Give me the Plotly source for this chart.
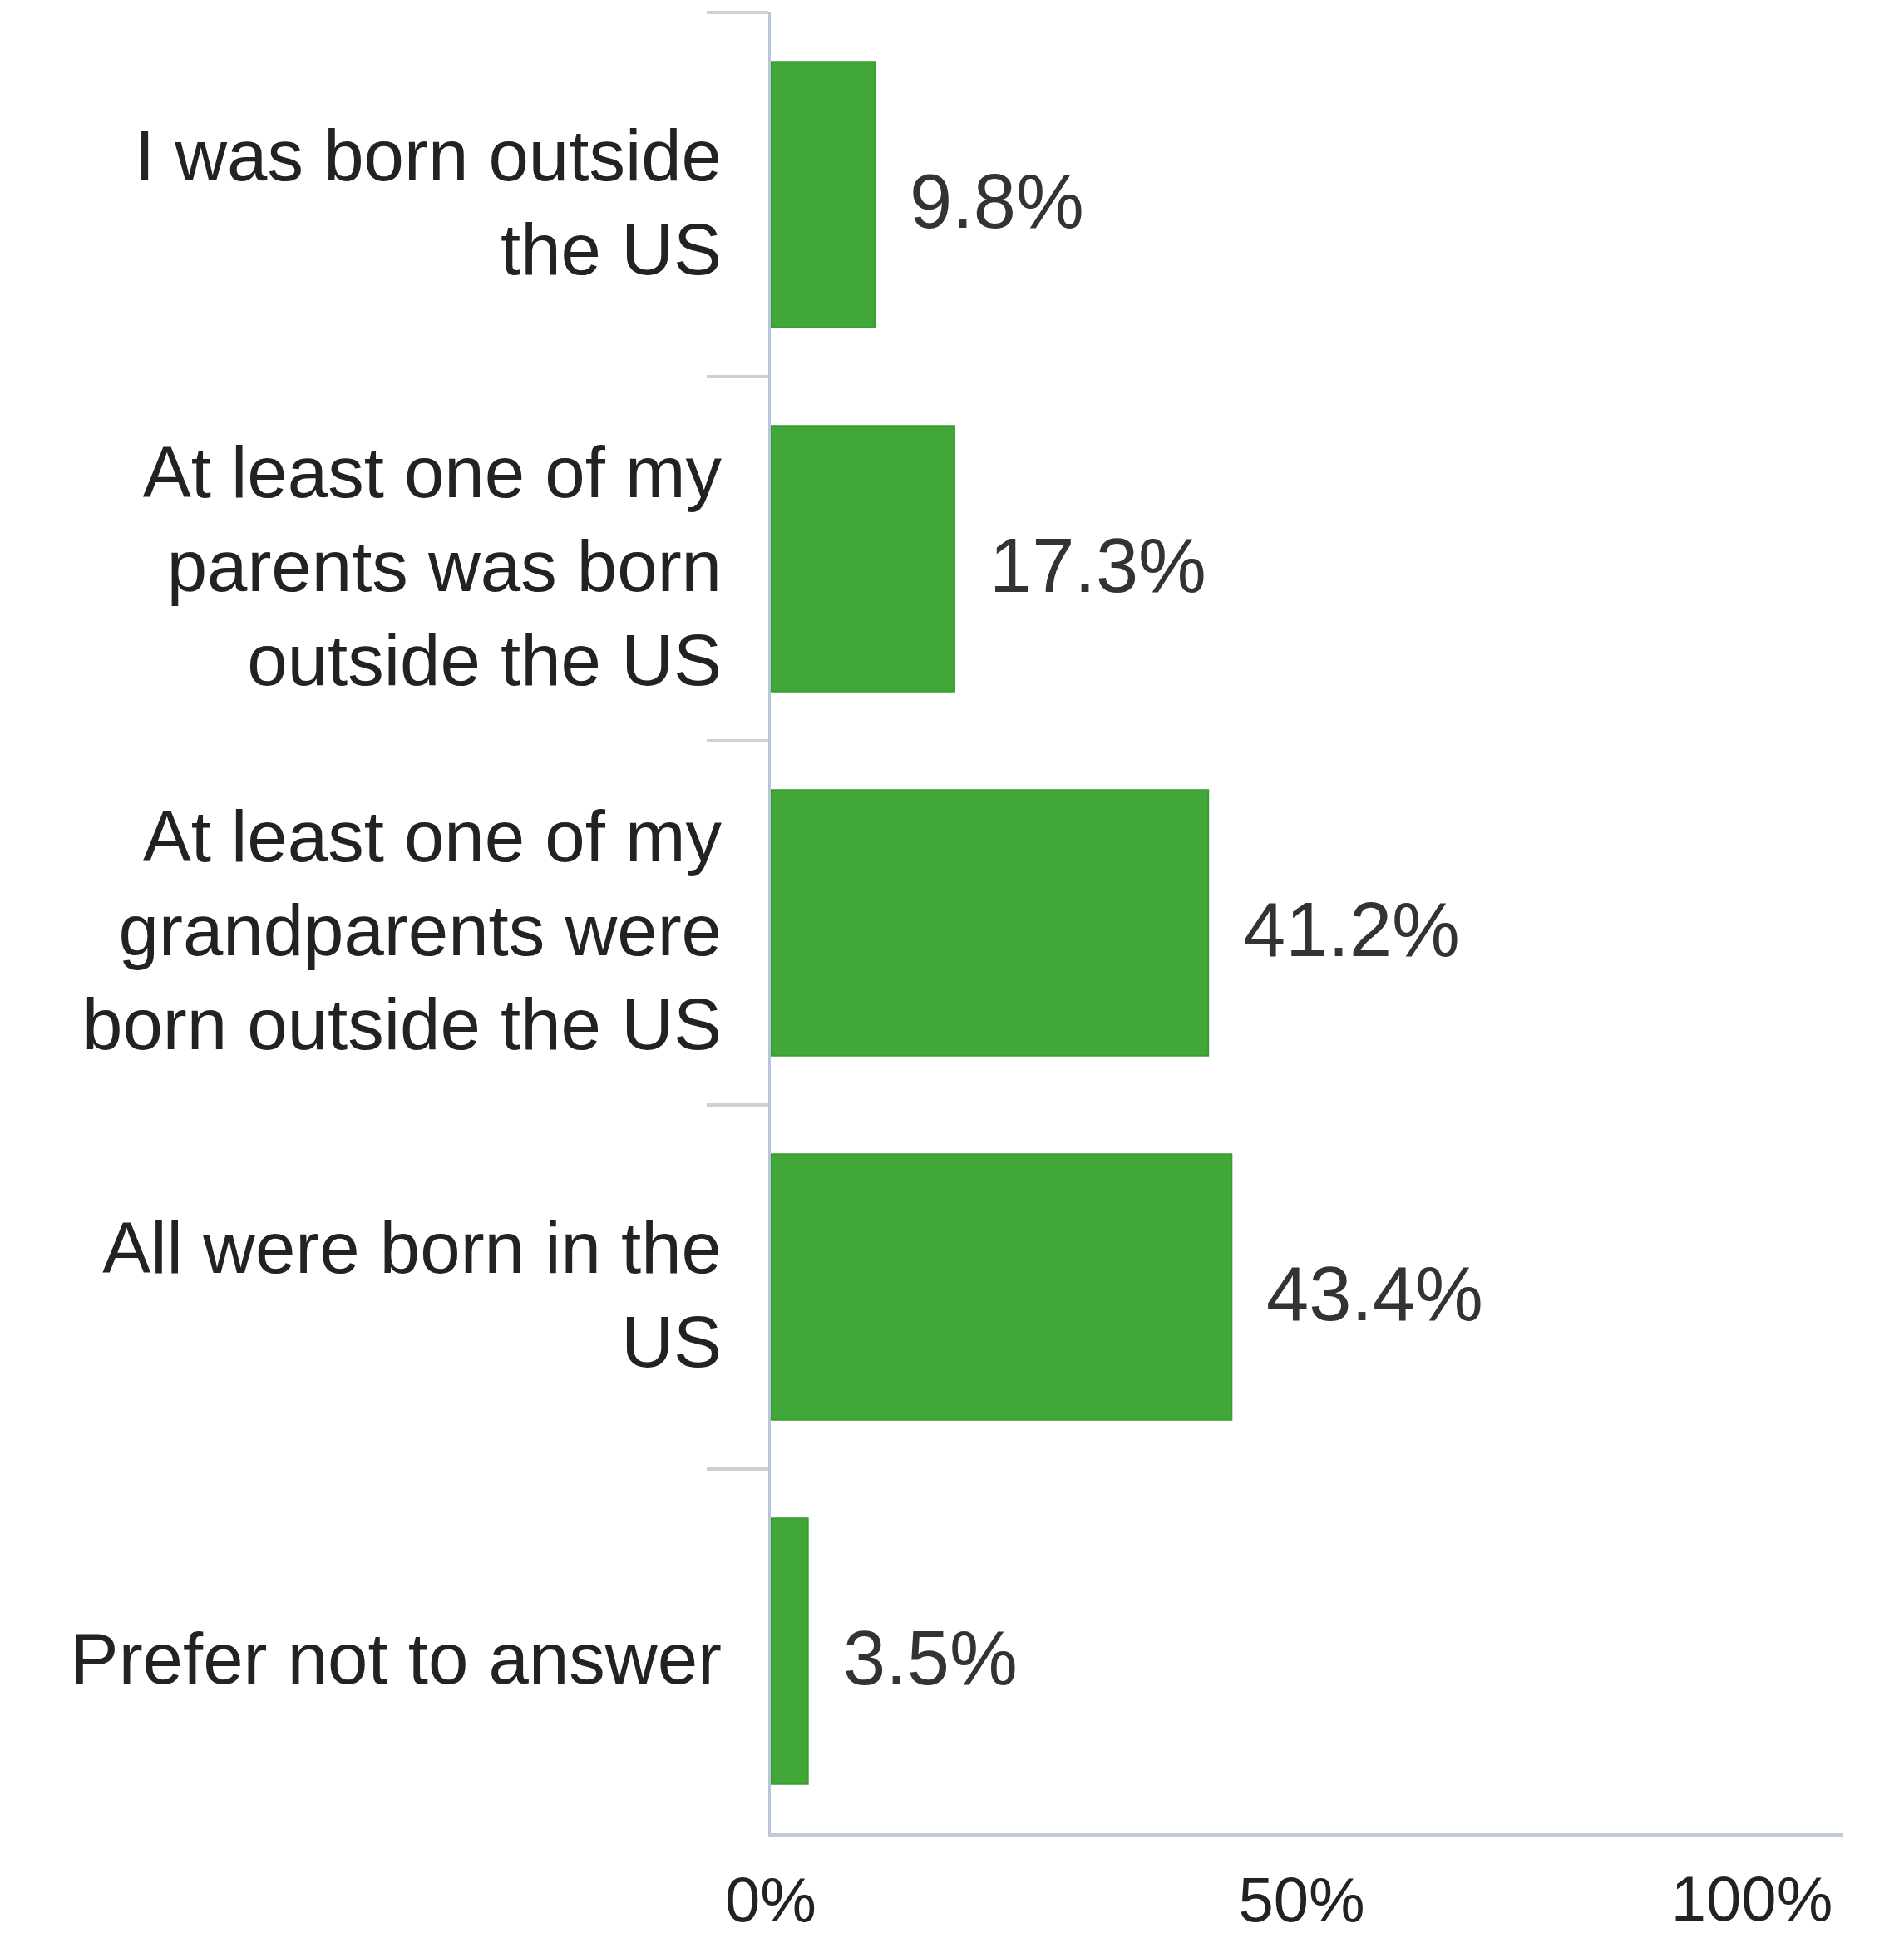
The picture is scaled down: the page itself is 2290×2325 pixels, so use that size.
import plotly.graph_objects as go

categories = [
    "I was born outside<br>the US",
    "At least one of my<br>parents was born<br>outside the US",
    "At least one of my<br>grandparents were<br>born outside the US",
    "All were born in the<br>US",
    "Prefer not to answer",
]
values = [9.8, 17.3, 41.2, 43.4, 3.5]
x_tick_vals = [0, 50]
x_tick_text = ["0%", "50%"]
x_end_tick_vals = [100]
x_end_tick_text = ["100%"]

FONT = "Liberation Sans, Arial, sans-serif"
X_RANGE = [0, 101]

fig = go.Figure()
fig.add_trace(go.Bar(
    x=values,
    y=categories,
    orientation="h",
    marker=dict(color="#41a739", line=dict(color="#3a9c33", width=2)),
    hoverinfo="skip",
))
# empty helper trace so the overlay axes (labels) are drawn
fig.add_trace(go.Scatter(x=[], y=[], xaxis="x2", yaxis="y2", hoverinfo="skip"))

for v, c in zip(values, categories):
    fig.add_annotation(
        x=v, y=c, text=f"{v}%", showarrow=False,
        xanchor="left", xshift=40, yshift=-8,
        font=dict(family=FONT, size=92, color="#333333"),
    )

n = len(categories)
fig.update_layout(
    width=2290, height=2325,
    margin=dict(l=919, r=81, t=7, b=128),
    paper_bgcolor="white", plot_bgcolor="white",
    bargap=0.27,
    showlegend=False,
    font=dict(family=FONT, color="#222222"),
    xaxis=dict(
        range=X_RANGE,
        tickvals=x_tick_vals, ticktext=x_tick_text,
        showgrid=False, zeroline=False,
        showline=True, linecolor="#c0c9de", linewidth=5,
        ticks="", tickfont=dict(size=76, color="#222222"),
        ticklabelstandoff=10, ticklabeloverflow="allow",
        automargin=False,
    ),
    yaxis=dict(
        autorange="reversed",
        showgrid=False, zeroline=False,
        showline=True, linecolor="#b8c3dc", linewidth=3,
        ticks="outside", tickson="boundaries", ticklen=74, tickwidth=4, tickcolor="#cfcfcf",
        showticklabels=False,
        automargin=False,
    ),
    xaxis2=dict(
        overlaying="x", anchor="y", side="bottom",
        range=X_RANGE,
        tickvals=x_end_tick_vals, ticktext=x_end_tick_text,
        showgrid=False, zeroline=False, showline=False,
        ticks="", tickfont=dict(size=76, color="#222222"),
        ticklabelposition="outside left",
        ticklabelstandoff=28, ticklabeloverflow="allow",
        automargin=False,
    ),
    yaxis2=dict(
        overlaying="y", anchor="x", side="left",
        type="category", categoryorder="array", categoryarray=categories,
        tickvals=categories, ticktext=categories,
        range=[n - 0.5 - 0.02, -0.5 - 0.02],
        showgrid=False, zeroline=False, showline=False,
        ticks="", tickfont=dict(size=87, color="#222222"),
        ticklabelstandoff=58,
        automargin=False,
    ),
)

fig.write_html("out.html")
